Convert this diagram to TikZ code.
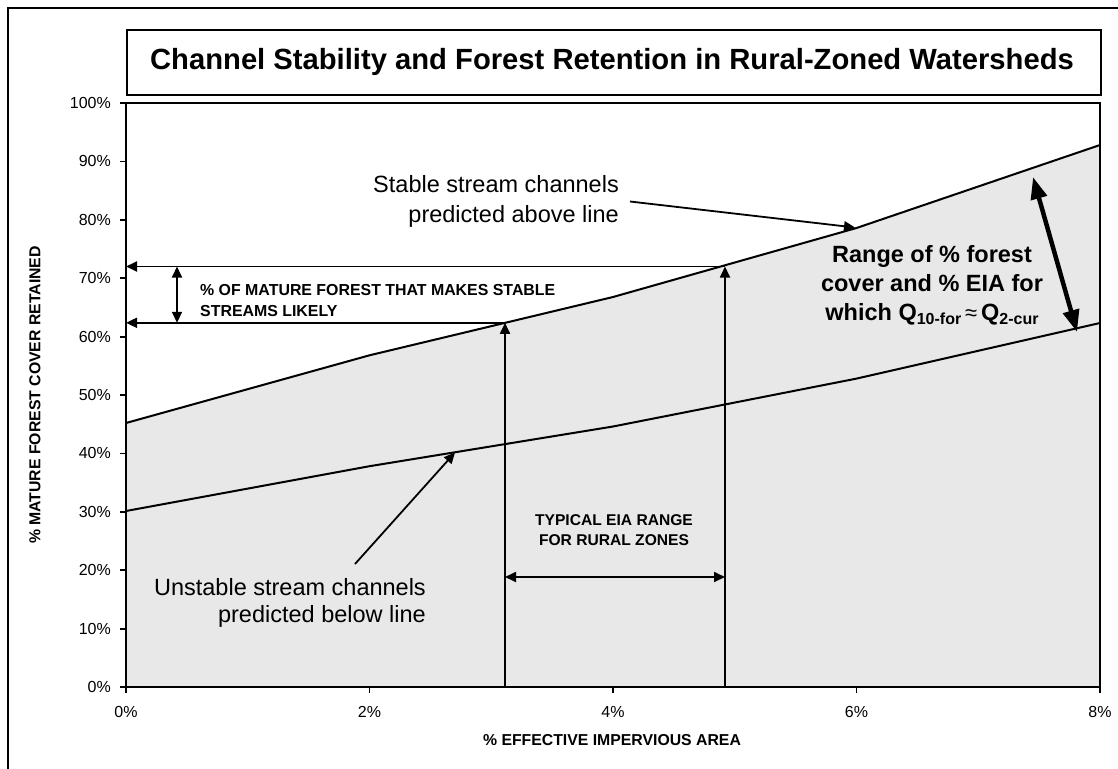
\documentclass[tikz,border=0pt]{standalone}
\usepackage{fontspec}
\setmainfont{Liberation Sans}
\usetikzlibrary{arrows.meta}
\definecolor{plotfill}{RGB}{232,232,232}
\newcommand\fsz[1]{\fontsize{#1}{#1}\selectfont}
\tikzset{
  frame/.style={line width=2.4pt},
  dataline/.style={line width=2pt, line join=round},
  annot/.style={line width=1.8pt},
  smalltip/.style={>={Triangle[length=11pt,width=10pt]}},
  bigtip/.style={>={Triangle[length=22pt,width=16pt]}},
  ticklab/.style={inner sep=0pt, font=\fsz{16}},
  boldsmall/.style={inner sep=0pt, font=\fsz{15.8}\bfseries},
  callout/.style={inner sep=0pt, font=\fsz{23.5}},
  bigbold/.style={inner sep=0pt, font=\fsz{23.5}\bfseries},
}
\begin{document}
\begin{tikzpicture}[x=1pt,y=-1pt]
\clip (0,0) rectangle (1118,768);
\fill[white] (0,0) rectangle (1118,768);
\draw[frame] (8,8) rectangle (1140,790);

% title box
\node[draw, frame, minimum width=974pt, minimum height=65pt, anchor=north west, inner sep=0pt] (titlebox) at (126,29) {};
\node[inner sep=0pt, anchor=base, font=\fsz{29.2}\bfseries] (title) at (612,70) {Channel Stability and Forest Retention in Rural-Zoned Watersheds};

% data points
\coordinate (u0) at (126,423);
\coordinate (u1) at (369.5,355.3);
\coordinate (u2) at (613,297);
\coordinate (u3) at (856.5,228);
\coordinate (u4) at (1100,145);
\coordinate (l0) at (126,511);
\coordinate (l1) at (369.5,466.2);
\coordinate (l2) at (613,426.5);
\coordinate (l3) at (856.5,378.6);
\coordinate (l4) at (1100,323);
\coordinate (o) at (126,687);
\coordinate (e) at (1100,687);

% shaded region
\fill[plotfill] (o) -- (u0) -- (u1) -- (u2) -- (u3) -- (u4) -- (e) -- cycle;

% lines
\draw[dataline] (u0) -- (u1) -- (u2) -- (u3) -- (u4);
\draw[dataline] (l0) -- (l1) -- (l2) -- (l3) -- (l4);

% plot frame
\draw[frame] (126,103) rectangle (1100,687);

% y ticks
\foreach \i in {0,...,10}{
  \pgfmathsetmacro\yy{687-58.4*\i}
  \pgfmathtruncatemacro\vv{\i*10}
  \draw[line width=1.8pt] (120,\yy) -- (126,\yy);
  \node[ticklab, anchor=east] (ylab\i) at (111,\yy) {\vv\%};
}
% x ticks
\foreach \i in {0,...,4}{
  \pgfmathsetmacro\xx{126+243.5*\i}
  \pgfmathtruncatemacro\vv{\i*2}
  \draw[line width=1.8pt] (\xx,687) -- (\xx,693);
  \node[ticklab, anchor=base] (xlab\i) at (\xx,717) {\vv\%};
}

% axis titles
\node[boldsmall, rotate=90] (ytitle) at (35,395) {\% MATURE FOREST COVER RETAINED};
\node[boldsmall, anchor=base] (xtitle) at (612,745) {\% EFFECTIVE IMPERVIOUS AREA};

% annotation coordinates
\coordinate (h72) at (126,266.5);
\coordinate (h62) at (126,322.8);
\coordinate (p72) at (725,266.5);
\coordinate (p62) at (505,322.8);
\coordinate (b72) at (725,687);
\coordinate (b62) at (505,687);
\coordinate (d72) at (177,266.5);
\coordinate (d62) at (177,322.8);
\coordinate (rl) at (505,577);
\coordinate (rr) at (725,577);

\begin{scope}[annot, smalltip]
\draw[->] (p72) -- (h72);
\draw[->] (p62) -- (h62);
\draw[<->] (d72) -- (d62);
\draw[->] (b62) -- (p62);
\draw[->] (b72) -- (p72);
\draw[<->] (rl) -- (rr);
\end{scope}

% labels
\node[boldsmall, font=\fsz{15.9}\bfseries, anchor=base west] (mf1) at (200,295) {\% OF MATURE FOREST THAT MAKES STABLE};
\node[boldsmall, font=\fsz{15.9}\bfseries, anchor=base west] (mf2) at (200,316.5) {STREAMS LIKELY};

\node[boldsmall, font=\fsz{15.6}\bfseries, anchor=base] (ty1) at (614,525) {TYPICAL EIA RANGE};
\node[boldsmall, font=\fsz{15.6}\bfseries, anchor=base] (ty2) at (614,545) {FOR RURAL ZONES};

\node[callout, anchor=base east] (st1) at (619,192) {Stable stream channels};
\node[callout, anchor=base east] (st2) at (619,222) {predicted above line};
\coordinate (stA) at (630,201.5);
\coordinate (stB) at (855,227.5);
\draw[annot, smalltip, ->] (stA) -- (stB);

\node[callout, anchor=base east] (un1) at (426,595) {Unstable stream channels};
\node[callout, anchor=base east] (un2) at (426,622) {predicted below line};
\coordinate (unA) at (355,564);
\coordinate (unB) at (455,452.5);
\draw[annot, smalltip, ->] (unA) -- (unB);

\node[bigbold, anchor=base] (rg1) at (932,262) {Range of \% forest};
\node[bigbold, anchor=base] (rg2) at (932,291) {cover and \% EIA for};
\node[bigbold, anchor=base] (rg3) at (932,320) {which Q\raisebox{-4pt}{\fsz{16}10-for}\,{\fsz{22}\mdseries ≈}\,Q\raisebox{-4pt}{\fsz{16}2-cur}};

\coordinate (bgA) at (1033,177);
\coordinate (bgB) at (1077,332);
\draw[line width=4.5pt, bigtip, <->] (bgA) -- (bgB);
\end{tikzpicture}
\end{document}
